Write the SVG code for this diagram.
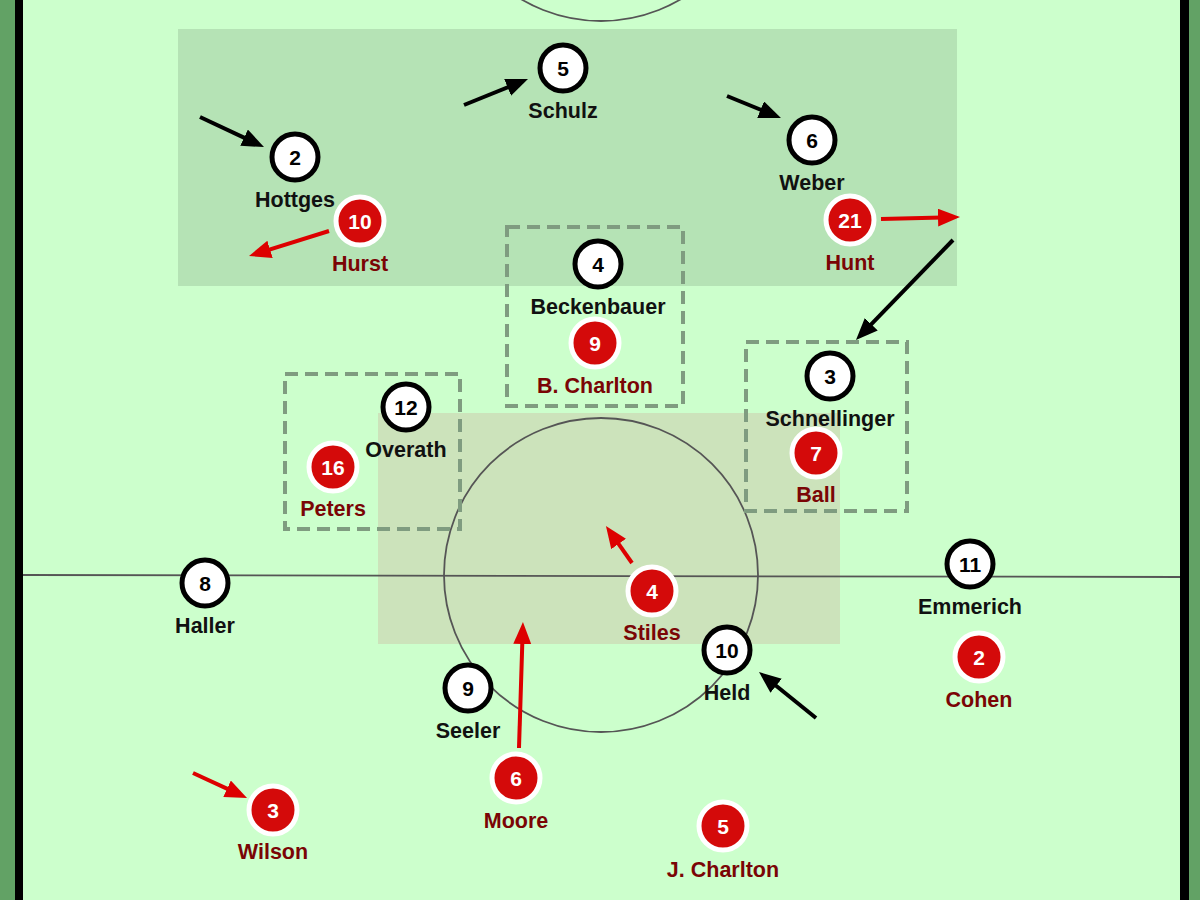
<svg xmlns="http://www.w3.org/2000/svg" width="1200" height="900" viewBox="0 0 1200 900">
<defs>
<style>
.w circle{fill:#fff;stroke:#000;stroke-width:5}
.r circle{fill:#d40a0a;stroke:#fff;stroke-width:5}
text{font-family:"Liberation Sans",Arial,Helvetica,sans-serif;font-weight:bold;text-anchor:middle}
.num{font-size:21px}
.w .num{fill:#000}
.r .num{fill:#fff}
.lbl{font-size:21.5px}
.w .lbl{fill:#111}
.r .lbl{fill:#7a0505}
.dash{fill:none;stroke:#7f9c80;stroke-width:4;stroke-dasharray:13 7}
.ab{stroke:#000;stroke-width:4;fill:none;marker-end:url(#hb)}
.ar{stroke:#dd0000;stroke-width:4;fill:none;marker-end:url(#hr)}
</style>
<marker id="hb" markerUnits="userSpaceOnUse" markerWidth="24" markerHeight="20" refX="4" refY="9" orient="auto"><path d="M0,0 L22,9 L0,18 z" fill="#000"/></marker>
<marker id="hr" markerUnits="userSpaceOnUse" markerWidth="24" markerHeight="20" refX="4" refY="9" orient="auto"><path d="M0,0 L22,9 L0,18 z" fill="#dd0000"/></marker>
</defs>
<g id="pitch">
<rect x="0" y="0" width="1200" height="900" fill="#ccffcc"/>
<rect x="0" y="0" width="15" height="900" fill="#62a265"/>
<rect x="15" y="0" width="8" height="900" fill="#000"/>
<rect x="1180" y="0" width="9" height="900" fill="#000"/>
<rect x="1189" y="0" width="11" height="900" fill="#62a265"/>
<rect x="178" y="29" width="779" height="257" fill="#b5e3b5"/>
<rect x="378" y="413" width="462" height="231" fill="#cce3bb"/>
<line x1="23" y1="575" x2="1180" y2="577" stroke="#555" stroke-width="1.8"/>
<circle cx="601" cy="575" r="157" fill="none" stroke="#555" stroke-width="1.8"/>
<circle cx="601" cy="-136" r="157" fill="none" stroke="#555" stroke-width="1.8"/>
<rect class="dash" x="507" y="227" width="176" height="179"/>
<rect class="dash" x="285" y="374" width="175" height="155"/>
<rect class="dash" x="746" y="342" width="161" height="169"/>
</g>
<g id="connectors">
<line class="ab" x1="200" y1="117" x2="247.7" y2="139.4"/>
<line class="ab" x1="464" y1="105" x2="511.3" y2="85.8"/>
<line class="ab" x1="727" y1="96" x2="764.3" y2="111.2"/>
<line class="ab" x1="953" y1="240" x2="868.5" y2="327.1"/>
<line class="ab" x1="816" y1="718" x2="773" y2="683.3"/>
<line class="ar" x1="329" y1="231" x2="266.2" y2="250.6"/>
<line class="ar" x1="881" y1="219" x2="942" y2="217.5"/>
<line class="ar" x1="632" y1="563" x2="616.3" y2="540.7"/>
<line class="ar" x1="519" y1="748" x2="522.4" y2="640"/>
<line class="ar" x1="193" y1="773" x2="230.7" y2="790.4"/>
</g>
<g id="schulz" class="w"><circle cx="563" cy="68" r="23"/><text class="num" x="563" y="76">5</text><text class="lbl" x="563" y="118">Schulz</text></g>
<g id="hottges" class="w"><circle cx="295" cy="157" r="23"/><text class="num" x="295" y="165">2</text><text class="lbl" x="295" y="207">Hottges</text></g>
<g id="weber" class="w"><circle cx="812" cy="140" r="23"/><text class="num" x="812" y="148">6</text><text class="lbl" x="812" y="190">Weber</text></g>
<g id="beckenbauer" class="w"><circle cx="598" cy="264" r="23"/><text class="num" x="598" y="272">4</text><text class="lbl" x="598" y="314">Beckenbauer</text></g>
<g id="schnellinger" class="w"><circle cx="830" cy="376" r="23"/><text class="num" x="830" y="384">3</text><text class="lbl" x="830" y="426">Schnellinger</text></g>
<g id="overath" class="w"><circle cx="406" cy="407" r="23"/><text class="num" x="406" y="415">12</text><text class="lbl" x="406" y="457">Overath</text></g>
<g id="haller" class="w"><circle cx="205" cy="583" r="23"/><text class="num" x="205" y="591">8</text><text class="lbl" x="205" y="633">Haller</text></g>
<g id="emmerich" class="w"><circle cx="970" cy="564" r="23"/><text class="num" x="970" y="572">11</text><text class="lbl" x="970" y="614">Emmerich</text></g>
<g id="seeler" class="w"><circle cx="468" cy="688" r="23"/><text class="num" x="468" y="696">9</text><text class="lbl" x="468" y="738">Seeler</text></g>
<g id="held" class="w"><circle cx="727" cy="650" r="23"/><text class="num" x="727" y="658">10</text><text class="lbl" x="727" y="700">Held</text></g>
<g id="hurst" class="r"><circle cx="360" cy="221" r="24"/><text class="num" x="360" y="229">10</text><text class="lbl" x="360" y="271">Hurst</text></g>
<g id="hunt" class="r"><circle cx="850" cy="220" r="24"/><text class="num" x="850" y="228">21</text><text class="lbl" x="850" y="270">Hunt</text></g>
<g id="bcharlton" class="r"><circle cx="595" cy="343" r="24"/><text class="num" x="595" y="351">9</text><text class="lbl" x="595" y="393">B. Charlton</text></g>
<g id="ball" class="r"><circle cx="816" cy="453" r="24"/><text class="num" x="816" y="461">7</text><text class="lbl" x="816" y="502">Ball</text></g>
<g id="peters" class="r"><circle cx="333" cy="467" r="24"/><text class="num" x="333" y="475">16</text><text class="lbl" x="333" y="516">Peters</text></g>
<g id="stiles" class="r"><circle cx="652" cy="591" r="24"/><text class="num" x="652" y="599">4</text><text class="lbl" x="652" y="640">Stiles</text></g>
<g id="cohen" class="r"><circle cx="979" cy="657" r="24"/><text class="num" x="979" y="665">2</text><text class="lbl" x="979" y="707">Cohen</text></g>
<g id="moore" class="r"><circle cx="516" cy="778" r="24"/><text class="num" x="516" y="786">6</text><text class="lbl" x="516" y="828">Moore</text></g>
<g id="wilson" class="r"><circle cx="273" cy="810" r="24"/><text class="num" x="273" y="818">3</text><text class="lbl" x="273" y="859">Wilson</text></g>
<g id="jcharlton" class="r"><circle cx="723" cy="826" r="24"/><text class="num" x="723" y="834">5</text><text class="lbl" x="723" y="877">J. Charlton</text></g>
</svg>
